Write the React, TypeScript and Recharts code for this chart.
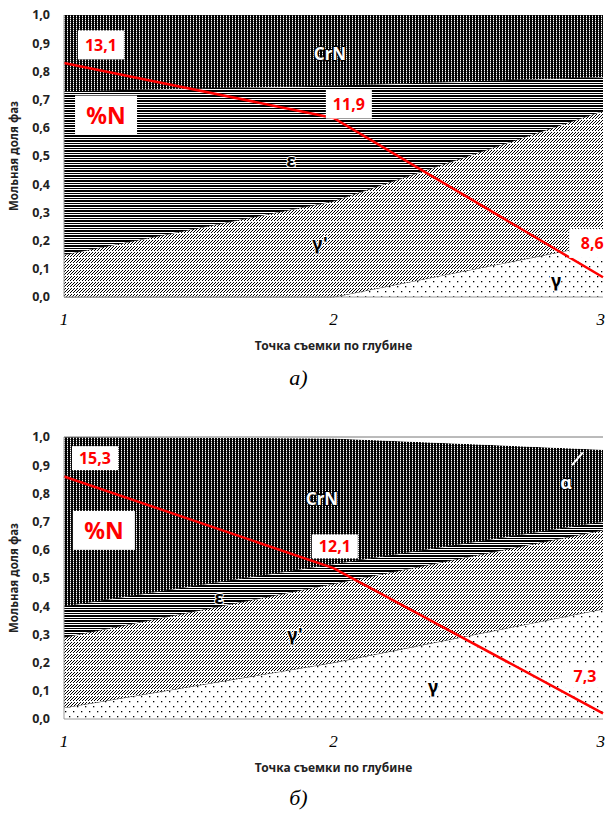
import React from 'react';
import { ComposedChart, Area, Line, XAxis, YAxis, ReferenceDot, ReferenceLine } from 'recharts';

// ---------- data ----------
const X_POINTS = [1, 2, 3];
const Y_TICKS = [0, 0.1, 0.2, 0.3, 0.4, 0.5, 0.6, 0.7, 0.8, 0.9, 1.0];

// chart а) – stacked mole fractions (layer thickness)
const A_GAMMA = [0, 0, 0.19];
const A_GAMMA_PRIME = [0.15, 0.34, 0.47];
const A_EPSILON = [0.58, 0.41, 0.12];
const A_CRN = [0.27, 0.25, 0.22];
const A_N_LINE = [0.83, 0.635, 0.07];
const A_N_VALUES = ['13,1', '11,9', '8,6'];

// chart б)
const B_GAMMA = [0.04, 0.2, 0.39];
const B_GAMMA_PRIME = [0.25, 0.28, 0.28];
const B_EPSILON = [0.11, 0.07, 0.03];
const B_CRN = [0.6, 0.445, 0.255];
const B_ALPHA = [0, 0.005, 0.045];
const B_N_LINE = [0.86, 0.535, 0.02];
const B_N_VALUES = ['15,3', '12,1', '7,3'];

// annotation anchors (data coordinates)
const A_VALUE_POS = [[1.137, 0.894], [2.057, 0.684], [2.96, 0.19]];
const A_PHASE = [
  { t: 'CrN', x: 1.987, y: 0.865, white: true },
  { t: 'ε', x: 1.842, y: 0.486, white: false },
  { t: "γ'", x: 1.95, y: 0.19, white: false },
  { t: 'γ', x: 2.826, y: 0.06, white: false },
];
const A_PCT_POS = [1.156, 0.645];

const B_VALUE_POS = [[1.115, 0.925], [2.005, 0.612], [2.933, 0.153]];
const B_PHASE = [
  { t: 'CrN', x: 1.957, y: 0.783, white: true },
  { t: 'α', x: 2.863, y: 0.84, white: true },
  { t: 'ε', x: 1.575, y: 0.434, white: false },
  { t: "γ'", x: 1.857, y: 0.302, white: false },
  { t: 'γ', x: 2.369, y: 0.117, white: false },
];
const B_PCT_POS = [1.148, 0.669];
const B_ALPHA_ARROW = [{ x: 2.885, y: 0.9 }, { x: 2.925, y: 0.945 }];

const Y_TITLE = 'Мольная доля фаз';
const X_TITLE = 'Точка съемки по глубине';

const dataA = X_POINTS.map((x, i) => ({
  x, g: A_GAMMA[i], gp: A_GAMMA_PRIME[i], e: A_EPSILON[i], c: A_CRN[i], n: A_N_LINE[i],
}));
const dataB = X_POINTS.map((x, i) => ({
  x, g: B_GAMMA[i], gp: B_GAMMA_PRIME[i], e: B_EPSILON[i], c: B_CRN[i], a: B_ALPHA[i], n: B_N_LINE[i],
}));

const SANS = '"Noto Sans", "DejaVu Sans", sans-serif';
const SERIF = '"Liberation Serif", "DejaVu Serif", serif';

const Patterns = ({ p }: { p: string }) => (
  <defs>
    <pattern id={`${p}-crn`} width={3} height={2} patternUnits="userSpaceOnUse">
      <rect width={3} height={2} fill="#000" />
      <rect x={1} y={0} width={1} height={1} fill="#fff" />
      <rect x={1} y={1} width={1} height={1} fill="#666" />
    </pattern>
    <pattern id={`${p}-eps`} width={4} height={5} patternUnits="userSpaceOnUse">
      <rect width={4} height={5} fill="#fff" />
      <rect y={0} width={4} height={2} fill="#000" />
      <rect y={3} width={4} height={1} fill="#000" />
    </pattern>
    <pattern id={`${p}-gp`} width={3} height={6} patternUnits="userSpaceOnUse">
      <rect width={3} height={6} fill="#fff" />
      <rect x={0} y={2} width={1} height={1} fill="#000" />
      <rect x={1} y={1} width={1} height={1} fill="#000" />
      <rect x={2} y={0} width={1} height={1} fill="#000" />
      <rect x={1} y={4} width={1} height={1} fill="#000" />
      <rect x={2} y={3} width={1} height={1} fill="#000" />
    </pattern>
    <pattern id={`${p}-g`} width={8} height={10} patternUnits="userSpaceOnUse">
      <rect width={8} height={10} fill="#fff" />
      <rect x={1} y={1} width={1.3} height={1.3} fill="#000" />
      <rect x={5} y={6} width={1.3} height={1.3} fill="#000" />
    </pattern>
  </defs>
);

const ValueBox = (text: string, fs: number, bw: number, bh: number) => (props: any) => {
  const vb = props.viewBox || {};
  const cx = vb.x + (vb.width || 0) / 2;
  const cy = vb.y + (vb.height || 0) / 2;
  return (
    <g>
      <rect x={cx - bw / 2} y={cy - bh / 2} width={bw} height={bh} fill="#fff" />
      <text x={cx} y={cy} textAnchor="middle" dominantBaseline="central" fill="#ff0000"
        fontFamily={SANS} fontWeight="bold" fontSize={fs}>{text}</text>
    </g>
  );
};

const PhaseText = (text: string, white: boolean, fs: number) => (props: any) => {
  const vb = props.viewBox || {};
  const cx = vb.x + (vb.width || 0) / 2;
  const cy = vb.y + (vb.height || 0) / 2;
  return (
    <text x={cx} y={cy} textAnchor="middle" dominantBaseline="central" fill={white ? '#fff' : '#000'}
      stroke={white ? '#000' : '#fff'} strokeWidth={2} style={{ paintOrder: 'stroke' }}
      fontFamily={SANS} fontWeight="bold" fontSize={fs}>{text}</text>
  );
};

const YTitle = (props: any) => {
  const vb = props.viewBox || {};
  const cy = vb.y + vb.height / 2;
  const x = 13;
  return (
    <text x={x} y={cy} transform={`rotate(-90 ${x} ${cy})`} textAnchor="middle" dominantBaseline="central"
      fontFamily={SANS} fontWeight="bold" fontSize={11.5} fill="#222">{Y_TITLE}</text>
  );
};

const XTitle = (props: any) => {
  const vb = props.viewBox || {};
  const cx = vb.x + vb.width / 2;
  return (
    <text x={cx} y={vb.y + 48} textAnchor="middle" dominantBaseline="central"
      fontFamily={SANS} fontWeight="bold" fontSize={12} fill="#222">{X_TITLE}</text>
  );
};

const fmt = (v: number) => v.toFixed(1).replace('.', ',');

function Chart({ p, data, values, valuePos, phases, pctPos, withAlpha, top }: any) {
  const H = 360;
  return (
    <ComposedChart width={605} height={H} data={data}
      margin={{ top: top, right: 2, bottom: 0, left: 0 }}>
      <Patterns p={p} />
      <XAxis dataKey="x" type="number" domain={[1, 3]} ticks={X_POINTS} height={H - top - 282}
        tickLine={false} axisLine={{ stroke: '#9a9a9a' }} tickMargin={10}
        tick={{ fontFamily: SERIF, fontStyle: 'italic', fontSize: 17, fill: '#000' }}
        label={<XTitle />} />
      <YAxis type="number" domain={[0, 1]} ticks={Y_TICKS} width={64} tickFormatter={fmt}
        tickLine={false} axisLine={{ stroke: '#9a9a9a' }} tickMargin={8} interval={0}
        tick={{ fontFamily: SANS, fontWeight: 'bold', fontSize: 12.5, fill: '#222' }}
        label={<YTitle />} />
      <Area type="linear" dataKey="g" stackId="s" fill={`url(#${p}-g)`} fillOpacity={1} stroke="#000" strokeWidth={0.8} isAnimationActive={false} />
      <Area type="linear" dataKey="gp" stackId="s" fill={`url(#${p}-gp)`} fillOpacity={1} stroke="#000" strokeWidth={0.8} isAnimationActive={false} />
      <Area type="linear" dataKey="e" stackId="s" fill={`url(#${p}-eps)`} fillOpacity={1} stroke="#000" strokeWidth={0.6} isAnimationActive={false} />
      <Area type="linear" dataKey="c" stackId="s" fill={`url(#${p}-crn)`} fillOpacity={1} stroke="none" isAnimationActive={false} />
      {withAlpha && (
        <Area type="linear" dataKey="a" stackId="s" fill="#fff" fillOpacity={1} stroke="none" isAnimationActive={false} />
      )}
      {withAlpha && <ReferenceLine y={1} stroke="#777" strokeWidth={1} />}
      {withAlpha && <ReferenceLine segment={B_ALPHA_ARROW} stroke="#fff" strokeWidth={2} ifOverflow="visible" />}
      <Line type="linear" dataKey="n" stroke="#ff0000" strokeWidth={2.5} dot={false} isAnimationActive={false} />
      {phases.map((ph: any, i: number) => (
        <ReferenceDot key={'ph' + i} x={ph.x} y={ph.y} r={1} fill="none" stroke="none"
          label={{ content: PhaseText(ph.t, ph.white, ph.t === 'CrN' ? 17 : 18) }} />
      ))}
      <ReferenceDot x={pctPos[0]} y={pctPos[1]} r={1} fill="none" stroke="none"
        label={{ content: ValueBox('%N', 23, 62, 39) }} />
      {values.map((v: string, i: number) => (
        <ReferenceDot key={'v' + i} x={valuePos[i][0]} y={valuePos[i][1]} r={1} fill="none" stroke="none"
          label={{ content: ValueBox(v, 16, 46, p === 'a' ? 29 : 24) }} />
      ))}
    </ComposedChart>
  );
}

export default function App() {
  return (
    <div style={{ position: 'absolute', left: 0, top: 0, width: 605, height: 813, background: '#fff' }}>
      <div style={{ position: 'absolute', left: 0, top: 0, width: 605, height: 360 }}>
        <Chart p="a" data={dataA} values={A_N_VALUES} valuePos={A_VALUE_POS} phases={A_PHASE} pctPos={A_PCT_POS} withAlpha={false} top={15} />
      </div>
      <div style={{ position: 'absolute', left: 0, top: 365, width: 605, textAlign: 'center', fontFamily: SERIF, fontStyle: 'italic', fontSize: 22 }}>
        <span style={{ marginLeft: -8 }}>а)</span>
      </div>
      <div style={{ position: 'absolute', left: 0, top: 420, width: 605, height: 360 }}>
        <Chart p="b" data={dataB} values={B_N_VALUES} valuePos={B_VALUE_POS} phases={B_PHASE} pctPos={B_PCT_POS} withAlpha={true} top={17} />
      </div>
      <div style={{ position: 'absolute', left: 0, top: 785, width: 605, textAlign: 'center', fontFamily: SERIF, fontStyle: 'italic', fontSize: 22 }}>
        <span style={{ marginLeft: -8 }}>б)</span>
      </div>
    </div>
  );
}
